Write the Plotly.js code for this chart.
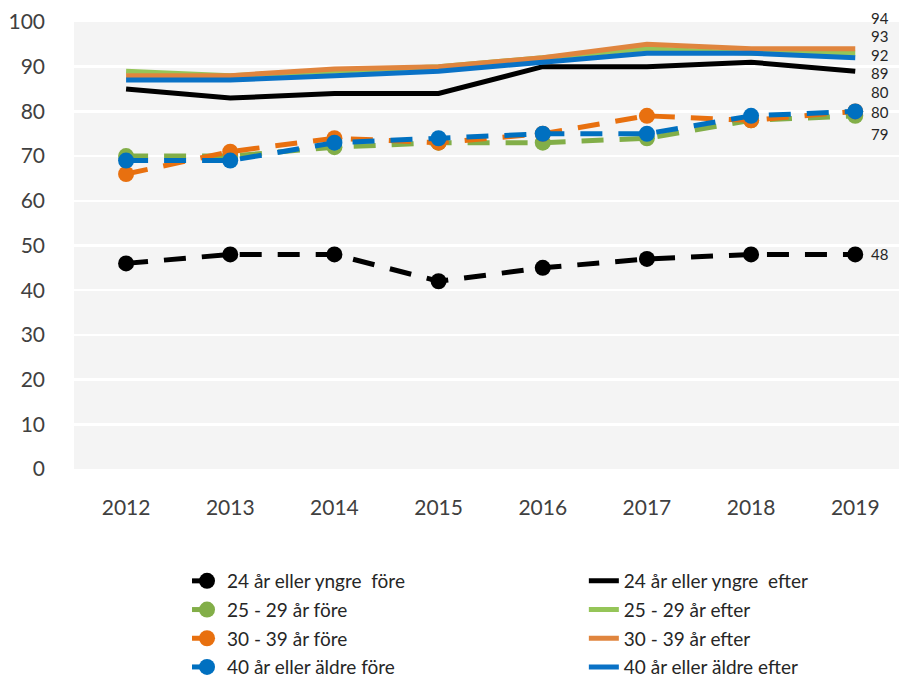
<!DOCTYPE html>
<html>
<head>
<meta charset="utf-8">
<script src="https://cdn.plot.ly/plotly-3.0.1.min.js"></script>
<style>html,body{margin:0;padding:0;background:#fff;}#chart{width:899px;height:686px;}</style>
</head>
<body>
<div id="chart"></div>
<script>
const years = ['2012','2013','2014','2015','2016','2017','2018','2019'];

const names = [
  '24 år eller yngre  före', '25 - 29 år före', '30 - 39 år före', '40 år eller äldre före',
  '24 år eller yngre  efter', '25 - 29 år efter', '30 - 39 år efter', '40 år eller äldre efter'
];

const fore24   = [46, 48, 48, 42, 45, 47, 48, 48];
const fore2529 = [70, 70, 72, 73, 73, 74, 78, 79];
const fore3039 = [66, 71, 74, 73, 75, 79, 78, 80];
const fore40   = [69, 69, 73, 74, 75, 75, 79, 80];

const efter24   = [85, 83, 84, 84, 90, 90, 91, 89];
const efter2529 = [89, 88, 89, 90, 92, 94, 93, 93];
const efter3039 = [88, 88, 89.5, 90, 92, 95, 94, 94];
const efter40   = [87, 87, 88, 89, 91, 93, 93, 92];

const series = [fore24, fore2529, fore3039, fore40, efter24, efter2529, efter3039, efter40];
const colors = ['#000000', '#82AE48', '#E8700F', '#0070C0', '#000000', '#95C558', '#E0853E', '#0A72C6'];
const dashed = [true, true, true, true, false, false, false, false];

const traces = series.map((vals, i) => ({
  type: 'scatter',
  x: years,
  y: vals,
  name: names[i],
  legend: dashed[i] ? 'legend' : 'legend2',
  legendgroup: 'g' + i,
  mode: dashed[i] ? 'lines+markers' : 'lines',
  line: { color: colors[i], width: 5, dash: dashed[i] ? '22px,16px' : 'solid' },
  marker: { color: colors[i], size: 16 },
  hoverinfo: 'skip'
}));

// end labels (last value of each series), with vertical pixel offsets to avoid overlap
const labelOrder = [6, 5, 7, 4, 2, 3, 1, 0];
const labelShift = [0, -18.5, 19, -1, -1.5, 17.5, 31, 3];
const last = years.length - 1;
const annotations = labelOrder.map(i => ({
  x: last,
  y: series[i][last],
  text: String(series[i][last]),
  xref: 'x', yref: 'y',
  xanchor: 'left', yanchor: 'middle',
  xshift: 14, yshift: labelShift[i],
  showarrow: false,
  font: { family: 'Lato, sans-serif', size: 15, color: '#262626' }
}));

const legendCommon = {
  orientation: 'v',
  xanchor: 'left',
  y: -0.209, yanchor: 'top',
  font: { size: 19, color: '#262626' },
  tracegroupgap: 1,
  bgcolor: 'rgba(0,0,0,0)'
};

const layout = {
  width: 899, height: 686,
  margin: { l: 74, r: 0, t: 22, b: 214 },
  paper_bgcolor: '#ffffff',
  plot_bgcolor: '#F4F4F4',
  font: { family: 'Lato, sans-serif', color: '#404040' },
  showlegend: true,
  xaxis: {
    type: 'category',
    range: [-0.5, 7.42],
    showgrid: false, zeroline: false, showline: false,
    ticks: '',
    ticklabelstandoff: 24,
    tickfont: { size: 21, color: '#404040' }
  },
  yaxis: {
    range: [0, 100],
    dtick: 10,
    showgrid: true, gridcolor: '#ffffff', gridwidth: 2.5,
    zeroline: false, showline: false,
    ticks: '',
    ticklabelstandoff: 28,
    tickfont: { size: 21, color: '#404040' }
  },
  legend: Object.assign({}, legendCommon, { x: 0.137 }),
  legend2: Object.assign({}, legendCommon, { x: 0.618 }),
  annotations: annotations
};

Plotly.newPlot('chart', traces, layout, { displayModeBar: false, staticPlot: true });
</script>
</body>
</html>
